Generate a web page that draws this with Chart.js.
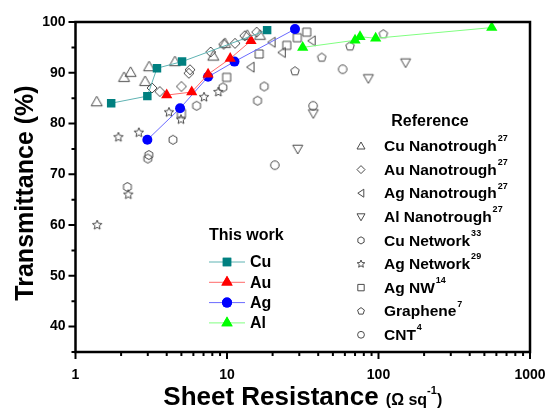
<!DOCTYPE html>
<html>
<head>
<meta charset="utf-8">
<script src="https://cdn.jsdelivr.net/npm/chart.js@4.4.1/dist/chart.umd.min.js"></script>
<style>
html, body { margin: 0; padding: 0; background: #fff; }
</style>
</head>
<body>
<canvas id="myChart" width="547" height="408"></canvas>
<script>
// this work
const cuX = [1.72, 2.98, 3.45, 5.05, 18.4];
const cuY = [84.0, 85.4, 90.9, 92.2, 98.4];
const auX = [4.0, 5.85, 7.5, 10.5, 14.4];
const auY = [85.6, 86.2, 89.7, 92.8, 96.3];
const agX = [2.98, 4.9, 7.5, 11.2, 28.1];
const agY = [76.8, 83.0, 89.2, 92.2, 98.6];
const alX = [31.6, 70, 75.5, 95.8, 559];
const alY = [95.0, 96.4, 97.1, 96.8, 98.9];

// references
const cuTroughX = [1.38, 2.09, 2.31, 2.88, 3.06, 4.53, 8.12, 9.7, 13.6, 16.5];
const cuTroughY = [84.3, 89.1, 90.1, 88.3, 91.2, 92.2, 93.3, 95.8, 97.4, 97.4];
const auTroughX = [3.2, 3.6, 5.0, 5.6, 5.7, 7.8, 9.5, 11.3, 13.1, 15.7];
const auTroughY = [87.0, 86.3, 87.3, 89.9, 90.6, 94.1, 95.6, 95.8, 97.3, 98.0];
const agTroughX = [14.3, 19.7, 23, 36.2];
const agTroughY = [91.1, 96.0, 94.0, 96.3];
const alTroughX = [29.3, 37.1, 85.7, 151];
const alTroughY = [75.0, 82.0, 88.9, 92.0];
const cuNetX = [2.2, 3.0, 3.05, 4.4, 6.3, 9.4, 15.9, 17.6];
const cuNetY = [67.5, 73.1, 73.8, 76.8, 83.5, 87.1, 84.5, 87.3];
const agNetX = [1.39, 1.92, 2.23, 2.62, 4.14, 4.97, 7.05, 8.77];
const agNetY = [60.0, 77.3, 66.0, 78.2, 82.2, 80.8, 85.2, 86.2];
const agNwX = [5.0, 9.95, 16.3, 24.8, 29.1, 33.6];
const agNwY = [82.0, 89.1, 93.7, 95.4, 96.9, 98.0];
const grapheneX = [28.1, 42.2, 64.9, 107.6];
const grapheneY = [90.3, 93.0, 95.2, 97.6];
const cntX = [20.7, 37, 58];
const cntY = [71.8, 83.5, 90.7];

const xTickLabels = [1, 10, 100, 1000];
const yTickLabels = [40, 50, 60, 70, 80, 90, 100];

const workNames = ['Cu', 'Au', 'Ag', 'Al'];
const refNames = ['Cu Nanotrough', 'Au Nanotrough', 'Ag Nanotrough', 'Al Nanotrough',
    'Cu Network', 'Ag Network', 'Ag NW', 'Graphene', 'CNT'];
const refSups = ['27', '27', '27', '27', '33', '29', '14', '7', '4'];
const refShapes = ['tri', 'dia', 'triL', 'triD', 'hex', 'star', 'sq', 'pent', 'circ'];

const FONT = '"Liberation Sans", Arial, sans-serif';
const GRAY = '#4a4a4a';

function pts(xs, ys) {
    return xs.map((x, i) => ({ x: x, y: ys[i] }));
}

function shapePath(ctx, shape, x, y, s) {
    ctx.beginPath();
    if (shape === 'tri') {
        ctx.moveTo(x, y - s); ctx.lineTo(x + s, y + s * 0.75); ctx.lineTo(x - s, y + s * 0.75);
    } else if (shape === 'triD') {
        ctx.moveTo(x, y + s); ctx.lineTo(x + s, y - s * 0.75); ctx.lineTo(x - s, y - s * 0.75);
    } else if (shape === 'triL') {
        ctx.moveTo(x - s * 0.8, y); ctx.lineTo(x + s * 0.7, y - s); ctx.lineTo(x + s * 0.7, y + s);
    } else if (shape === 'dia') {
        ctx.moveTo(x, y - s); ctx.lineTo(x + s, y); ctx.lineTo(x, y + s); ctx.lineTo(x - s, y);
    } else if (shape === 'sq') {
        ctx.rect(x - s * 0.8, y - s * 0.8, s * 1.6, s * 1.6);
    } else if (shape === 'circ') {
        ctx.arc(x, y, s * 0.85, 0, Math.PI * 2);
    } else if (shape === 'hex' || shape === 'pent') {
        let n = shape === 'hex' ? 6 : 5;
        for (let i = 0; i < n; i++) {
            let a = -Math.PI / 2 + i * 2 * Math.PI / n;
            let px = x + s * 0.9 * Math.cos(a), py = y + s * 0.9 * Math.sin(a);
            if (i === 0) ctx.moveTo(px, py); else ctx.lineTo(px, py);
        }
    } else if (shape === 'star') {
        for (let i = 0; i < 10; i++) {
            let a = -Math.PI / 2 + i * Math.PI / 5;
            let r = i % 2 === 0 ? s : s * 0.45;
            let px = x + r * Math.cos(a), py = y + r * Math.sin(a);
            if (i === 0) ctx.moveTo(px, py); else ctx.lineTo(px, py);
        }
    }
    ctx.closePath();
}

function marker(shape, size) {
    let c = document.createElement('canvas');
    c.width = c.height = size + 4;
    let g = c.getContext('2d');
    g.strokeStyle = GRAY;
    g.lineWidth = 1;
    shapePath(g, shape, c.width / 2, c.height / 2, size / 2);
    g.stroke();
    return c;
}

function refSet(label, xs, ys, shape, size) {
    return {
        label: label,
        data: pts(xs, ys),
        pointStyle: marker(shape, size),
        showLine: false
    };
}

function workSet(label, xs, ys, color, lineColor, style, radius) {
    return {
        label: label,
        data: pts(xs, ys),
        showLine: true,
        borderColor: lineColor,
        borderWidth: 1,
        pointStyle: style,
        pointRadius: radius,
        pointBackgroundColor: color,
        pointBorderColor: color,
        pointBorderWidth: 0
    };
}

const workSets = [
    workSet('Cu', cuX, cuY, '#008080', '#5fb3b3', 'rect', 6),
    workSet('Au', auX, auY, '#ff0000', '#ff6a6a', 'triangle', 6.5),
    workSet('Ag', agX, agY, '#0000ff', '#6a6aff', 'circle', 5),
    workSet('Al', alX, alY, '#00ff00', '#80ff80', 'triangle', 6.5)
];

const refSets = [
    refSet(refNames[0], cuTroughX, cuTroughY, 'tri', 11),
    refSet(refNames[1], auTroughX, auTroughY, 'dia', 10),
    refSet(refNames[2], agTroughX, agTroughY, 'triL', 10),
    refSet(refNames[3], alTroughX, alTroughY, 'triD', 10),
    refSet(refNames[4], cuNetX, cuNetY, 'hex', 10),
    refSet(refNames[5], agNetX, agNetY, 'star', 10),
    refSet(refNames[6], agNwX, agNwY, 'sq', 10),
    refSet(refNames[7], grapheneX, grapheneY, 'pent', 10),
    refSet(refNames[8], cntX, cntY, 'circ', 10)
];

const decor = {
    id: 'decor',
    afterDraw(chart) {
        const ctx = chart.ctx;
        const a = chart.chartArea;
        const xs = chart.scales.x, ys = chart.scales.y;
        ctx.save();

        // ticks
        ctx.strokeStyle = '#000';
        ctx.lineWidth = 2;
        ctx.beginPath();
        for (let d = 1; d <= 1000; d *= 10) {
            for (let k = 1; k < 10; k++) {
                let v = d * k;
                if (v > 1000) break;
                let px = xs.getPixelForValue(v);
                let len = k === 1 ? 7 : 4;
                ctx.moveTo(px, a.bottom); ctx.lineTo(px, a.bottom + len);
            }
        }
        for (let v = 35; v <= 100; v += 5) {
            let py = ys.getPixelForValue(v);
            let len = v % 10 === 0 ? 7 : 4;
            ctx.moveTo(a.left, py); ctx.lineTo(a.left - len, py);
        }
        ctx.stroke();

        // frame
        ctx.lineWidth = 2.5;
        ctx.strokeRect(a.left, a.top, a.right - a.left, a.bottom - a.top);

        ctx.fillStyle = '#000';
        ctx.textBaseline = 'alphabetic';

        // x title
        let t1 = 'Sheet Resistance ';
        ctx.font = 'bold 26px ' + FONT;
        let w1 = ctx.measureText(t1).width;
        ctx.font = 'bold 16px ' + FONT;
        let w2 = ctx.measureText('(Ω sq').width;
        ctx.font = 'bold 11px ' + FONT;
        let w3 = ctx.measureText('-1').width;
        ctx.font = 'bold 16px ' + FONT;
        let w4 = ctx.measureText(')').width;
        let x0 = (a.left + a.right) / 2 - (w1 + w2 + w3 + w4) / 2;
        let base = 405;
        ctx.textAlign = 'left';
        ctx.font = 'bold 26px ' + FONT;
        ctx.fillText(t1, x0, base);
        ctx.font = 'bold 16px ' + FONT;
        ctx.fillText('(Ω sq', x0 + w1, base);
        ctx.font = 'bold 11px ' + FONT;
        ctx.fillText('-1', x0 + w1 + w2, base - 11);
        ctx.font = 'bold 16px ' + FONT;
        ctx.fillText(')', x0 + w1 + w2 + w3, base);

        // y title
        ctx.save();
        ctx.translate(33, 193);
        ctx.rotate(-Math.PI / 2);
        ctx.textAlign = 'center';
        ctx.font = 'bold 25px ' + FONT;
        ctx.fillText('Transmittance (%)', 0, 0);
        ctx.restore();

        // this work legend
        ctx.textBaseline = 'middle';
        ctx.textAlign = 'left';
        ctx.font = 'bold 16px ' + FONT;
        ctx.fillText('This work', 209, 236);
        workSets.forEach((ds, i) => {
            let y = 262 + i * 20.3;
            ctx.strokeStyle = ds.borderColor;
            ctx.lineWidth = 1;
            ctx.beginPath();
            ctx.moveTo(209, y); ctx.lineTo(245, y);
            ctx.stroke();
            ctx.fillStyle = ds.pointBackgroundColor;
            Chart.helpers.drawPoint(ctx, { pointStyle: ds.pointStyle, radius: ds.pointRadius, borderWidth: 0 }, 227, y);
            ctx.fill();
            ctx.fillStyle = '#000';
            ctx.fillText(workNames[i], 250, y + 1);
        });

        // reference legend
        ctx.textAlign = 'center';
        ctx.font = 'bold 16px ' + FONT;
        ctx.fillText('Reference', 430, 122);
        ctx.textAlign = 'left';
        refNames.forEach((name, i) => {
            let y = 146 + i * 23.6;
            ctx.strokeStyle = GRAY;
            ctx.lineWidth = 1;
            shapePath(ctx, refShapes[i], 361, y, 4);
            ctx.stroke();
            ctx.fillStyle = '#000';
            ctx.font = 'bold 15.5px ' + FONT;
            ctx.fillText(name, 384, y + 1);
            let w = ctx.measureText(name).width;
            ctx.font = 'bold 9px ' + FONT;
            ctx.fillText(refSups[i], 384 + w + 1, y - 7);
        });

        ctx.restore();
    }
};

let ctx = document.getElementById('myChart').getContext('2d');
let myChart = new Chart(ctx, {
    type: 'scatter',
    data: {
        datasets: workSets.concat(refSets)
    },
    options: {
        responsive: false,
        animation: false,
        layout: { padding: { left: 0, top: 22, right: 17, bottom: 0 } },
        plugins: {
            legend: { display: false },
            tooltip: { enabled: false }
        },
        scales: {
            x: {
                type: 'logarithmic',
                min: 1,
                max: 1000,
                afterFit: s => { s.height = 56; s.paddingLeft = 0; s.paddingRight = 0; },
                grid: { display: false, drawTicks: false },
                border: { display: false },
                ticks: {
                    autoSkip: false,
                    maxRotation: 0,
                    padding: 15,
                    color: '#000',
                    font: { family: FONT, size: 14, weight: 'bold' },
                    callback: v => xTickLabels.includes(v) ? String(v) : ''
                }
            },
            y: {
                min: 35,
                max: 100,
                afterFit: s => { s.width = 75.5; s.paddingTop = 0; s.paddingBottom = 0; },
                grid: { display: false, drawTicks: false },
                border: { display: false },
                ticks: {
                    stepSize: 10,
                    padding: 10,
                    color: '#000',
                    font: { family: FONT, size: 14, weight: 'bold' },
                    callback: v => yTickLabels.includes(v) ? String(v) : ''
                }
            }
        }
    },
    plugins: [decor]
});
</script>
</body>
</html>
